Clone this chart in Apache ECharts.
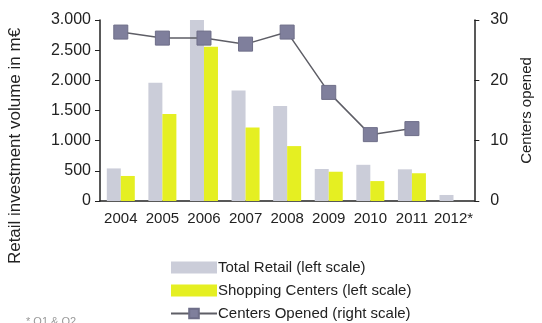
<!DOCTYPE html>
<html>
<head>
<meta charset="utf-8">
<script src="https://cdn.jsdelivr.net/npm/echarts@6/dist/echarts.min.js"></script>
<style>
    html, body { margin: 0; padding: 0; background: #fff; }
    #chart { width: 542px; height: 323px; }
</style>
</head>
<body>
<div id="chart"></div>
<script>
// 数据
const years = ['2004', '2005', '2006', '2007', '2008', '2009', '2010', '2011', '2012*']
const totalRetail = [540, 1960, 3000, 1830, 1575, 530, 600, 525, 100]
const shoppingCenters = [415, 1440, 2555, 1220, 910, 485, 330, 460, null]
const centersOpened = [28, 27, 27, 26, 28, 18, 11, 12, null]

const font = '"Liberation Sans Narrow", "Liberation Sans", Arial, sans-serif'

const chart = echarts.init(document.getElementById('chart'))

const option = {
    animation: false,
    textStyle: { fontFamily: font },
    grid: { left: 100, right: 62, top: 20, bottom: 122 },
    legend: {
        orient: 'vertical',
        left: 170,
        top: 260,
        padding: 0,
        itemGap: 8,
        itemWidth: 46,
        itemHeight: 12,
        textStyle: { fontFamily: font, fontSize: 15, color: '#222', padding: [0, 0, 0, -4] },
        data: [
            { name: 'Total Retail (left scale)', icon: 'rect' },
            { name: 'Shopping Centers (left scale)', icon: 'rect' },
            { name: 'Centers Opened (right scale)' },
        ],
    },
    xAxis: {
        type: 'category',
        data: years,
        axisLine: { lineStyle: { color: '#222', width: 1.5 } },
        axisTick: { length: 5, lineStyle: { color: '#222' } },
        axisLabel: { interval: 0, fontFamily: font, fontSize: 15, color: '#222', margin: 10 },
    },
    yAxis: [
        {
            type: 'value',
            min: 0,
            max: 3000,
            interval: 500,
            axisLine: { show: true, lineStyle: { color: '#222', width: 1.5 } },
            axisTick: { show: true, length: 5, lineStyle: { color: '#222' } },
            axisLabel: {
                fontFamily: font,
                fontSize: 16,
                color: '#222',
                margin: 9,
                formatter: (v) => String(v).replace(/\B(?=(\d{3})+(?!\d))/g, '.'),
            },
            splitLine: { show: false },
        },
        {
            type: 'value',
            min: 0,
            max: 30,
            interval: 10,
            position: 'right',
            name: 'Centers opened',
            nameLocation: 'middle',
            nameGap: 44,
            nameRotate: 90,
            nameTextStyle: { fontFamily: font, fontSize: 15, color: '#222' },
            axisLine: { show: true, lineStyle: { color: '#222', width: 1.5 } },
            axisTick: { show: true, length: 5, lineStyle: { color: '#222' } },
            axisLabel: { fontFamily: font, fontSize: 16, color: '#222', margin: 16 },
            splitLine: { show: false },
        },
    ],
    series: [
        {
            name: 'Total Retail (left scale)',
            type: 'bar',
            data: totalRetail,
            barWidth: 14,
            barGap: '0%',
            itemStyle: { color: '#cbcdd9' },
        },
        {
            name: 'Shopping Centers (left scale)',
            type: 'bar',
            data: shoppingCenters,
            barWidth: 14,
            barGap: '0%',
            itemStyle: { color: '#e5ef22' },
        },
        {
            name: 'Centers Opened (right scale)',
            type: 'line',
            yAxisIndex: 1,
            data: centersOpened,
            symbol: 'rect',
            symbolSize: 14,
            lineStyle: { color: '#5e5e66', width: 1.5 },
            itemStyle: { color: '#7f7f9c', borderColor: '#6e6e88', borderWidth: 1 },
        },
    ],
    graphic: [
        {
            type: 'text',
            x: 15,
            y: 146,
            rotation: Math.PI / 2,
            style: {
                text: 'Retail investment volume in m€',
                fontFamily: font,
                fontSize: 17,
                fill: '#222',
                align: 'center',
                verticalAlign: 'middle',
            },
        },
        {
            type: 'text',
            left: 26,
            top: 316,
            style: { text: '* Q1 & Q2', fontFamily: font, fontSize: 11, fill: '#999' },
        },
    ],
}

chart.setOption(option)
</script>
</body>
</html>
